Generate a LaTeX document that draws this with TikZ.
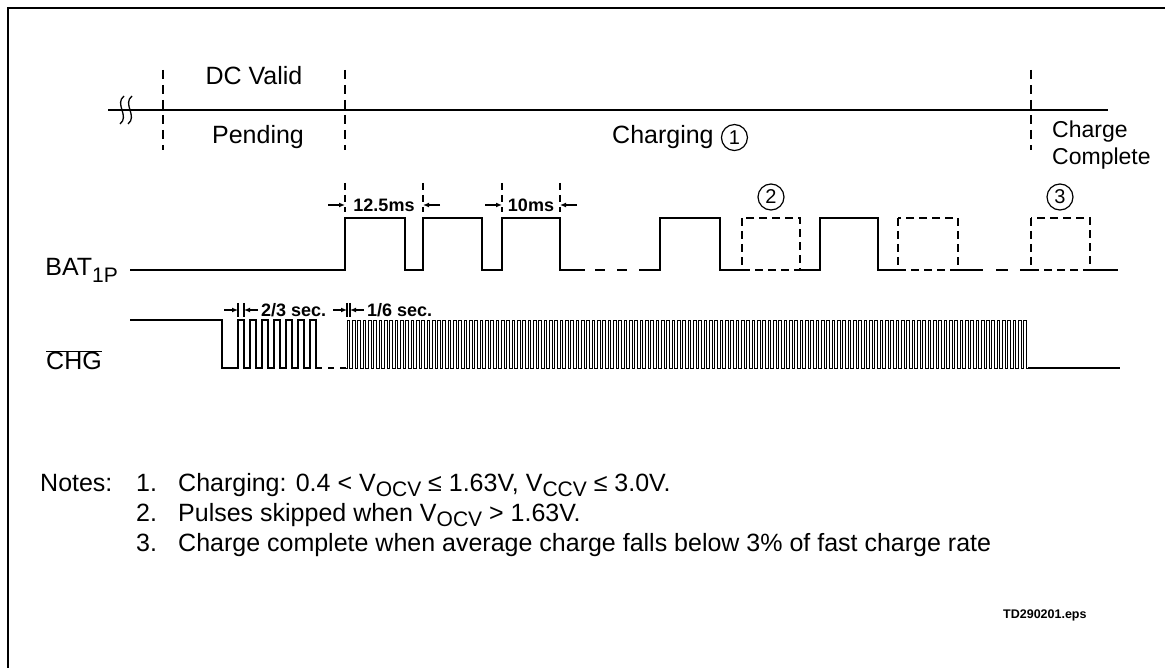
\documentclass[tikz,border=0pt]{standalone}
\usepackage{fontspec}
\setmainfont{Liberation Sans}
\usetikzlibrary{arrows.meta,positioning}
\newcommand{\lowsub}[1]{\raisebox{-5pt}{\fontsize{21}{21}\selectfont #1}}

\begin{document}
\begin{tikzpicture}[x=1pt,y=-1pt,
wave/.style={line width=1.6pt},
fastwave/.style={line width=0.9pt},
skipbox/.style={line width=1.4pt,dash pattern=on 8pt off 5pt},
phaseline/.style={line width=1.4pt,dash pattern=on 9pt off 6pt},
tickline/.style={line width=1.2pt,dash pattern=on 7pt off 5pt},
dimarrow/.style={-{Latex[length=6pt,width=5pt]},line width=1.2pt},
edgebar/.style={line width=1.6pt},
lbl/.style={font=\fontsize{25}{29}\selectfont,inner sep=0pt},
dimlbl/.style={font=\fontsize{18}{20}\selectfont\bfseries,inner sep=0pt},
num/.style={circle,draw,line width=1.2pt,inner sep=0pt,minimum size=26pt,font=\fontsize{20}{20}\selectfont}]
\useasboundingbox (0,0) rectangle (1165,668);
\draw[line width=1.5pt] (8,668) -- (8,8) -- (1165,8);
% state line
\draw[wave] (108,110) -- (1108,110);
\draw[line width=1.3pt] (124,96) .. controls (114,104) and (130,116) .. (120,124);
\draw[line width=1.3pt] (132,96) .. controls (122,104) and (138,116) .. (128,124);
\foreach \x in {163,345,1031} \draw[phaseline] (\x,70) -- (\x,150);
\node[lbl,anchor=base] (dcvalid) at (254,85) {DC Valid};
\node[lbl,anchor=base] (pending) at (258,144) {Pending};
\node[lbl,anchor=base west] (charging) at (612,144) {Charging};
\node[num,right=7pt of charging] (n1) {1};
\node[lbl,anchor=base west,font=\fontsize{23}{27}\selectfont] (charge) at (1052,138) {Charge};
\node[lbl,anchor=base west,font=\fontsize{23}{27}\selectfont] (complete) at (1052,165) {Complete};
% BAT1P
\node[lbl,anchor=base east] (bat) at (118,276) {BAT\raisebox{-7pt}{\fontsize{21}{21}\selectfont 1P}};
\draw[wave] (130,270) -- (345,270) -- (345,218) -- (405,218) -- (405,270) -- (423,270) -- (423,218) -- (482,218) -- (482,270)
  -- (502,270) -- (502,218) -- (560,218) -- (560,270) -- (585,270);
\draw[wave,dash pattern=on 10pt off 12pt,dash phase=12pt] (585,270) -- (645,270);
\draw[wave] (645,270) -- (660,270) -- (660,218) -- (720,218) -- (720,270) -- (742,270);
\draw[skipbox] (742,218) rectangle (800,270);
\draw[wave] (800,270) -- (820,270) -- (820,218) -- (878,218) -- (878,270) -- (898,270);
\draw[skipbox] (898,218) rectangle (958,270);
\draw[wave] (958,270) -- (983,270);
\draw[wave,dash pattern=on 12pt off 13pt,dash phase=12pt] (983,270) -- (1020,270);
\draw[wave] (1020,270) -- (1031,270);
\draw[skipbox] (1031,218) rectangle (1090,270);
\draw[wave] (1090,270) -- (1118,270);
\node[num] (n2) at (771,197) {2};
\node[num] (n3) at (1060,197) {3};
% pulse timing
\foreach \x in {345,423,502,560} \draw[tickline] (\x,183) -- (\x,212);
\draw[dimarrow] (328,205) -- (345,205);
\draw[dimarrow] (440,205) -- (423,205);
\node[dimlbl] (period) at (384,205) {12.5ms};
\draw[dimarrow] (485,205) -- (502,205);
\draw[dimarrow] (577,205) -- (560,205);
\node[dimlbl] (ontime) at (531,205) {10ms};
% CHG
\node[lbl,anchor=base east] (chg) at (102,370) {$\overline{\mbox{CHG}}$};
\draw[wave] (130,320) -- (222,320) -- (222,368) -- (238,368)
  \foreach \k in {0,...,6} { -- ({238+12*\k},368) -- ({238+12*\k},320) -- ({244+12*\k},320) -- ({244+12*\k},368) } -- (322,368);
\draw[wave,dash pattern=on 6pt off 6pt,dash phase=6pt] (322,368) -- (347,368);
\draw[fastwave] (345,368)
  \foreach \k in {0,...,127} { -- ({347+5.33*\k},368) -- ({347+5.33*\k},320) -- ({349.67+5.33*\k},320) -- ({349.67+5.33*\k},368) } -- (1120,368);
\draw[wave] (1028,368) -- (1120,368);
\foreach \x in {238,244,347,350} \draw[edgebar] (\x,303) -- (\x,317);
\draw[dimarrow] (224,310) -- (238,310);
\draw[dimarrow] (258,310) -- (244,310);
\node[dimlbl,anchor=west] (slow) at (261,310) {2/3 sec.};
\draw[dimarrow] (333,310) -- (347,310);
\draw[dimarrow] (364,310) -- (350,310);
\node[dimlbl,anchor=west] (fast) at (367,310) {1/6 sec.};
% notes
\node[lbl,anchor=base west] (notes) at (40,491) {Notes:};
\node[lbl,anchor=base west] (num1) at (136,491) {1.};
\node[lbl,anchor=base west] (note1) at (178,491) {Charging: 0.4 < V\lowsub{OCV} ≤ 1.63V, V\lowsub{CCV} ≤ 3.0V.};
\node[lbl,anchor=base west] (num2) at (136,521) {2.};
\node[lbl,anchor=base west] (note2) at (178,521) {Pulses skipped when V\lowsub{OCV} > 1.63V.};
\node[lbl,anchor=base west] (num3) at (136,551) {3.};
\node[lbl,anchor=base west] (note3) at (178,551) {Charge complete when average charge falls below 3\% of fast charge rate};
\node[anchor=base west,inner sep=0pt,font=\fontsize{12.5}{15}\selectfont\bfseries] (td) at (1003,618) {TD290201.eps};
\end{tikzpicture}
\end{document}
